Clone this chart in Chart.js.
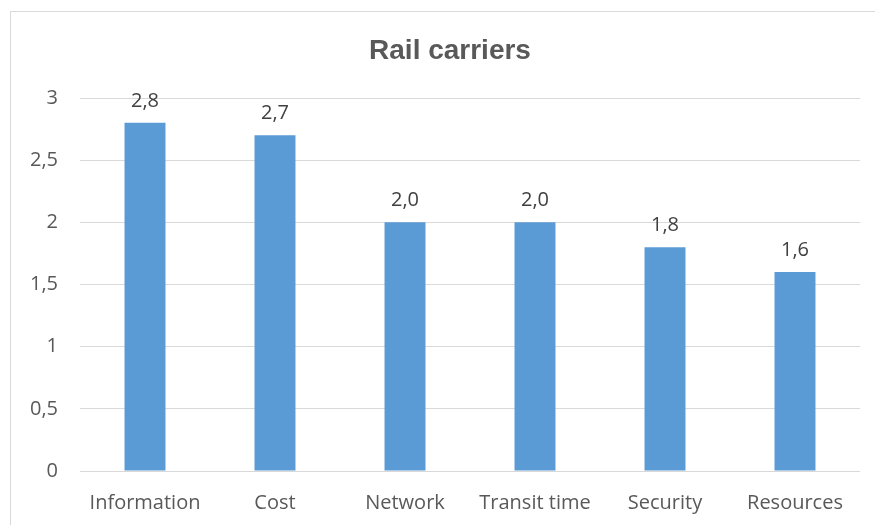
<!DOCTYPE html>
<html>
<head>
<meta charset="utf-8">
<script src="https://cdn.jsdelivr.net/npm/chart.js@4"></script>
<style>
  html, body { margin: 0; padding: 0; background: #fff; }
  #wrap { position: relative; width: 875px; height: 525px; overflow: hidden; }
  #frame {
    position: absolute; left: 10px; top: 11px; width: 900px; height: 600px;
    border: 1px solid #d9d9d9; box-sizing: border-box;
  }
  canvas { position: absolute; left: 0; top: 0; }
</style>
</head>
<body>
<div id="wrap">
  <div id="frame"></div>
  <canvas id="railChart" width="875" height="525"></canvas>
</div>
<script>
// -- Data --
const categories = ['Information', 'Cost', 'Network', 'Transit time', 'Security', 'Resources'];
const scores = [2.8, 2.7, 2.0, 2.0, 1.8, 1.6];
const yTicks = [0, 0.5, 1, 1.5, 2, 2.5, 3];

const FONT = '"Open Sans", "Noto Sans", sans-serif';
const TEXT_GRAY = '#595959';

function comma(num, digits) {
    const s = digits === undefined ? String(num) : num.toFixed(digits);
    return s.replace('.', ',');
}

// value labels above each bar
const valueLabels = {
    id: 'valueLabels',
    afterDatasetsDraw(chart) {
        const ctx = chart.ctx;
        const meta = chart.getDatasetMeta(0);
        ctx.save();
        ctx.font = '20px ' + FONT;
        ctx.fillStyle = '#404040';
        ctx.textAlign = 'center';
        ctx.textBaseline = 'alphabetic';
        meta.data.forEach((bar, i) => {
            ctx.fillText(comma(scores[i], 1), bar.x, bar.y - 16);
        });
        ctx.restore();
    }
};

// centre the title over the whole frame, not just the canvas
const titleShift = {
    id: 'titleShift',
    afterLayout(chart) {
        if (chart.titleBlock) chart.titleBlock.left += 40;
    }
};

new Chart(document.getElementById('railChart'), {
    type: 'bar',
    data: {
        labels: categories,
        datasets: [{
            data: scores,
            backgroundColor: '#5b9bd5',
            borderWidth: 0,
            barPercentage: 0.315,
            categoryPercentage: 1
        }]
    },
    options: {
        responsive: false,
        animation: false,
        layout: { padding: { top: 0, right: 15, bottom: 0, left: 0 } },
        plugins: {
            legend: { display: false },
            tooltip: { enabled: false },
            title: {
                display: true,
                text: 'Rail carriers',
                color: TEXT_GRAY,
                font: { family: '"Liberation Sans", Arial, sans-serif', size: 28, weight: 'bold', lineHeight: 1.2 },
                padding: { top: 34, bottom: 30.4 }
            }
        },
        scales: {
            y: {
                min: 0,
                max: 3,
                afterFit(scale) { scale.width = 80; },
                afterBuildTicks(scale) { scale.ticks = yTicks.map(v => ({ value: v })); },
                grid: { color: '#d9d9d9', lineWidth: 1, drawTicks: false },
                border: { display: false },
                ticks: {
                    color: TEXT_GRAY,
                    padding: 22,
                    font: { family: FONT, size: 20 },
                    callback: v => comma(v)
                }
            },
            x: {
                afterFit(scale) { scale.height = 54; },
                grid: { display: false, drawTicks: false },
                border: { display: false },
                ticks: {
                    color: TEXT_GRAY,
                    padding: 20,
                    font: { family: FONT, size: 20 }
                }
            }
        }
    },
    plugins: [valueLabels, titleShift]
});
</script>
</body>
</html>
